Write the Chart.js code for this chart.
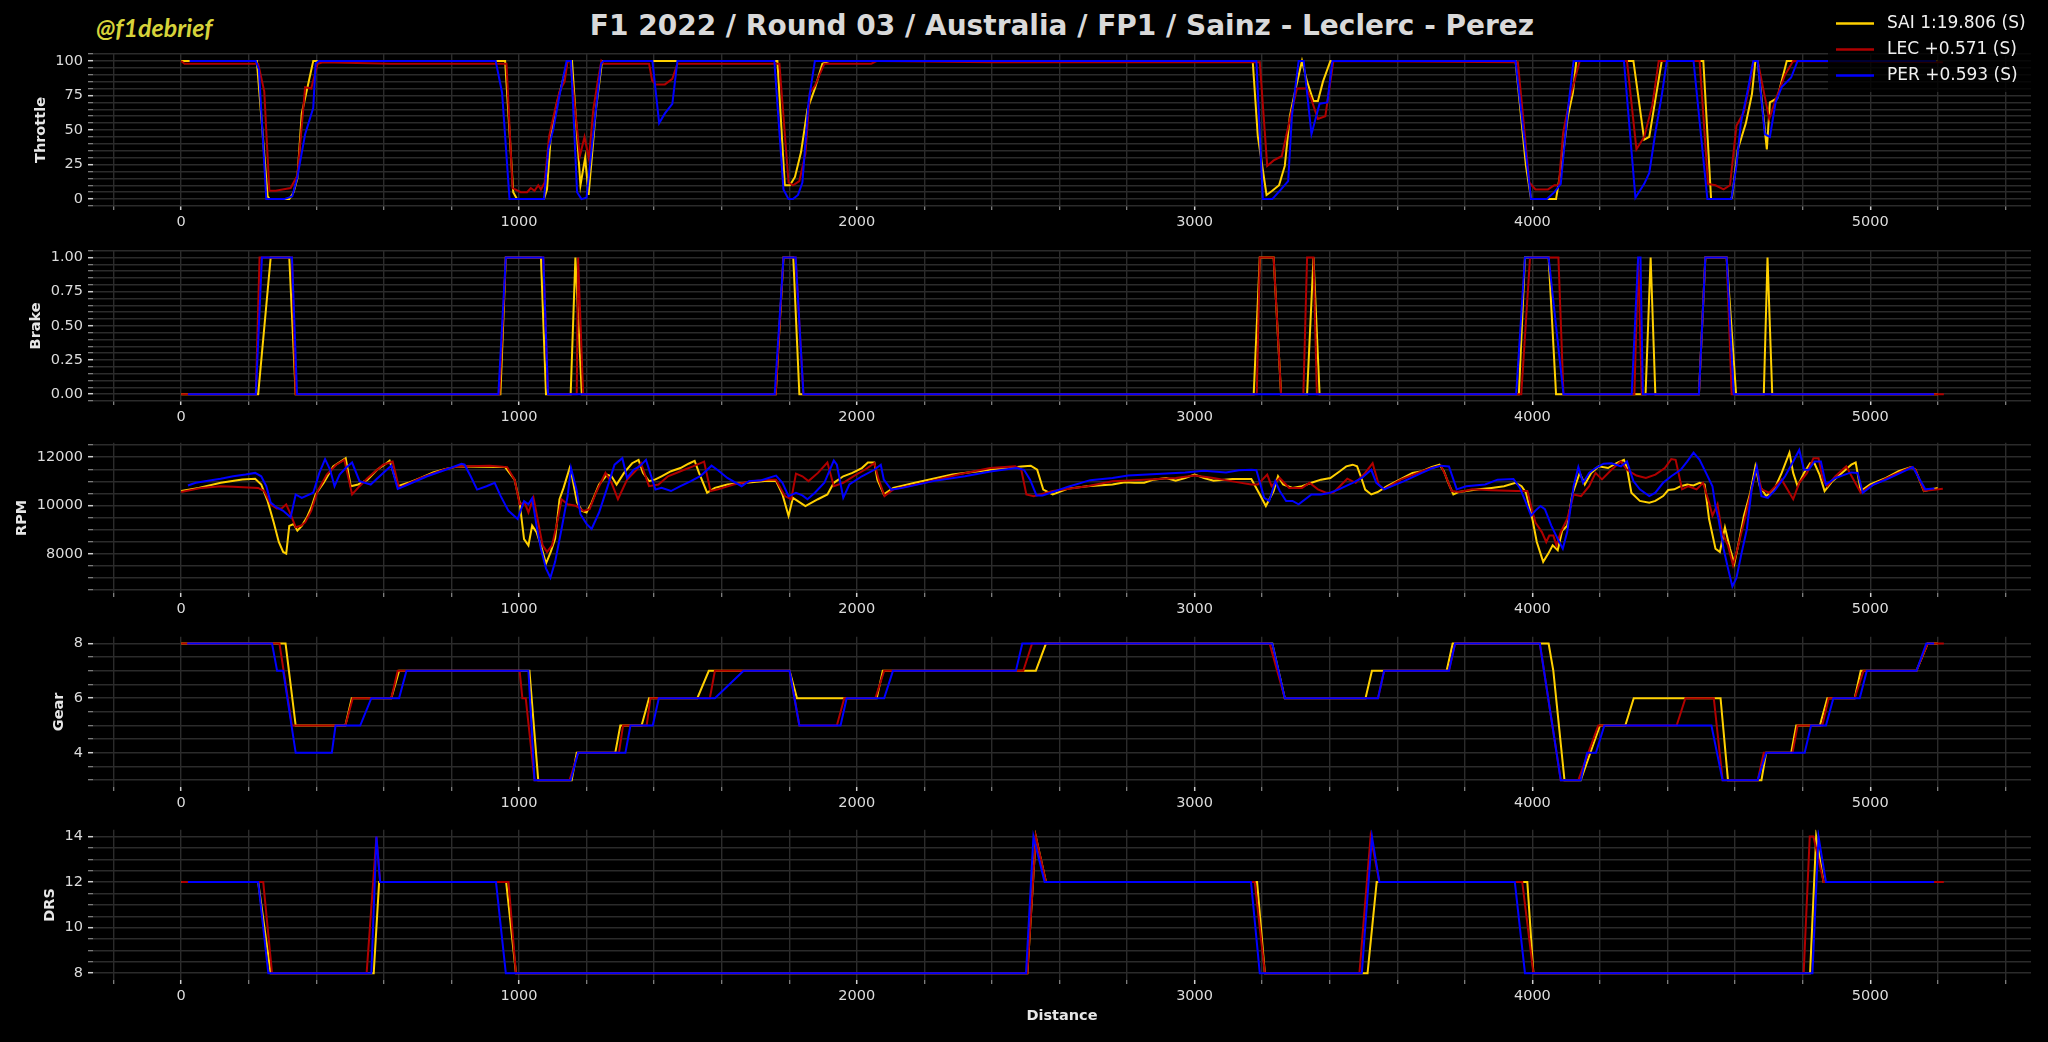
<!DOCTYPE html>
<html>
<head>
<meta charset="utf-8">
<script src="https://cdn.jsdelivr.net/npm/chart.js@4.4.1/dist/chart.umd.min.js"></script>
<style>
  html, body { margin:0; padding:0; background:#000; }
  body { width:2048px; height:1042px; position:relative; overflow:hidden; font-family:"DejaVu Sans", sans-serif; }
  .panel { position:absolute; left:0; }
  #title { position:absolute; left:93px; width:1938px; top:9px; text-align:center; font:bold 28px "DejaVu Sans"; line-height:34px; color:#d9d9d9; }
  #wm { position:absolute; left:96px; top:14px; font:italic bold 25px Lato, "Open Sans", "DejaVu Sans"; line-height:26px; color:#d6d33a; }
</style>
</head>
<body>
<div id="title">F1 2022 / Round 03 / Australia / FP1 / Sainz - Leclerc - Perez</div>
<div id="wm">@f1debrief</div>
<div id="panels"></div>
<script>
// ---------------- DATA ----------------
const DRIVERS = ['SAI 1:19.806 (S)', 'LEC +0.571 (S)', 'PER +0.593 (S)'];
const CHANNELS = ['Throttle', 'Brake', 'RPM', 'Gear', 'DRS'];
const X_TICK_LABELS = ['0', '1000', '2000', '3000', '4000', '5000'];

const THROTTLE_SAI = [[0,100],[224,100],[256,2],[262,0],[320,0],[333,5],[344,15],[357,62],[391,100],[959,100],[983,5],[994,0],[1074,0],[1083,7],[1094,45],[1111,68],[1131,87],[1144,100],[1157,100],[1168,60],[1182,10],[1196,30],[1206,3],[1228,65],[1246,100],[1765,100],[1787,10],[1802,10],[1817,16],[1835,34],[1854,65],[1876,80],[1898,98],[1920,100],[3172,100],[3187,46],[3213,3],[3230,6],[3250,10],[3267,24],[3282,60],[3301,82],[3318,100],[3333,85],[3352,71],[3365,71],[3380,85],[3402,100],[3950,100],[3981,24],[3996,0],[4070,0],[4088,27],[4105,60],[4120,77],[4130,100],[4299,100],[4331,43],[4346,45],[4364,72],[4383,100],[4506,100],[4529,0],[4585,0],[4591,1],[4608,36],[4632,55],[4650,76],[4660,100],[4667,100],[4694,36],[4703,70],[4725,73],[4753,100],[5200,100]];
const THROTTLE_LEC = [[0,100],[10,98],[228,98],[246,78],[261,6],[280,6],[300,7],[324,8],[344,17],[367,81],[385,80],[404,98],[420,99],[620,98],[800,98],[963,98],[981,8],[1005,5],[1024,5],[1035,8],[1046,6],[1057,10],[1065,7],[1076,12],[1089,45],[1107,65],[1120,78],[1135,85],[1144,100],[1152,100],[1180,31],[1194,45],[1207,29],[1220,65],[1233,85],[1244,100],[1250,98],[1385,98],[1394,86],[1404,83],[1432,83],[1454,87],[1469,98],[1771,98],[1798,12],[1811,10],[1830,13],[1848,33],[1861,77],[1876,82],[1904,98],[2043,98],[2060,100],[2400,99],[3193,99],[3215,24],[3234,28],[3258,31],[3284,60],[3303,80],[3331,80],[3346,72],[3365,58],[3387,60],[3411,100],[3957,99],[3991,12],[4009,7],[4046,7],[4065,10],[4078,10],[4091,48],[4110,72],[4140,100],[4280,100],[4308,36],[4331,45],[4355,68],[4374,100],[4495,100],[4520,11],[4542,10],[4566,7],[4585,10],[4604,53],[4626,63],[4645,85],[4654,100],[4667,100],[4701,58],[4720,72],[4748,90],[4772,100],[5215,99]];
const THROTTLE_PER = [[25,100],[221,100],[230,94],[252,0],[305,0],[329,2],[344,16],[367,47],[391,66],[398,98],[407,100],[931,100],[950,77],[972,0],[1074,0],[1087,36],[1102,51],[1120,75],[1141,100],[1154,100],[1172,5],[1185,0],[1200,1],[1215,36],[1231,72],[1243,98],[1250,100],[1395,100],[1415,55],[1432,62],[1454,69],[1469,100],[1756,100],[1783,7],[1798,0],[1811,0],[1826,3],[1839,12],[1857,70],[1876,100],[3183,100],[3202,0],[3230,0],[3252,6],[3277,13],[3288,60],[3308,100],[3323,100],[3346,47],[3370,69],[3393,70],[3408,100],[3950,100],[3996,0],[4043,0],[4065,5],[4084,11],[4103,60],[4122,100],[4271,100],[4305,1],[4331,11],[4346,19],[4364,48],[4383,75],[4398,100],[4477,100],[4518,0],[4589,0],[4604,24],[4617,55],[4636,77],[4654,100],[4667,100],[4688,47],[4703,45],[4720,70],[4738,81],[4766,88],[4785,100],[5195,100]];

const BRAKE_SAI = [[0,0],[228,0],[265,1],[320,1],[339,0],[945,0],[961,1],[1065,1],[1080,0],[1153,0],[1167,1],[1186,0],[1760,0],[1783,1],[1812,1],[1830,0],[3175,0],[3193,1],[3234,1],[3256,0],[3333,0],[3352,1],[3370,0],[3960,0],[3978,1],[4048,1],[4070,0],[4335,0],[4350,1],[4364,0],[4493,0],[4512,1],[4575,1],[4603,0],[4685,0],[4696,1],[4710,0],[5200,0]];
const BRAKE_LEC = [[0,0],[221,0],[232,1],[328,1],[339,0],[942,0],[961,1],[1072,1],[1086,0],[1171,0],[1175,1],[1190,0],[1760,0],[1783,1],[1819,1],[1842,0],[3184,0],[3193,1],[3234,1],[3256,0],[3322,0],[3333,1],[3352,1],[3362,0],[3967,0],[3993,1],[4077,1],[4092,0],[4302,0],[4313,1],[4324,0],[4493,0],[4512,1],[4575,1],[4590,0],[5218,0]];
const BRAKE_PER = [[20,0],[221,0],[239,1],[328,1],[343,0],[939,0],[961,1],[1072,1],[1086,0],[1757,0],[1783,1],[1819,1],[1842,0],[3952,0],[3978,1],[4048,1],[4092,0],[4294,0],[4313,1],[4320,1],[4327,0],[4493,0],[4512,1],[4575,1],[4596,0],[5189,0]];

const RPM_SAI = [[0,10600],[52,10730],[117,10940],[181,11080],[219,11110],[237,10870],[256,10180],[274,9300],[289,8490],[302,8080],[311,8010],[320,9160],[333,9235],[344,8960],[357,9160],[372,9500],[387,9985],[398,10460],[422,10940],[450,11620],[487,11960],[502,10800],[524,10870],[552,11070],[580,11480],[602,11690],[617,11860],[641,10800],[672,10940],[709,11140],[746,11370],[783,11510],[820,11620],[959,11590],[987,11070],[1002,10120],[1015,8610],[1028,8350],[1039,9170],[1052,8900],[1065,8350],[1080,7600],[1094,8080],[1107,8620],[1120,10260],[1132,10730],[1150,11550],[1157,11210],[1172,10120],[1187,9780],[1200,9710],[1215,10120],[1237,10870],[1261,11280],[1274,11210],[1289,10870],[1311,11350],[1335,11750],[1354,11890],[1367,11350],[1385,11010],[1404,11080],[1422,11210],[1450,11420],[1478,11550],[1502,11730],[1520,11850],[1533,11350],[1557,10530],[1580,10730],[1617,10870],[1672,10940],[1728,11010],[1761,11010],[1780,10460],[1798,9570],[1811,10320],[1848,9980],[1885,10260],[1913,10460],[1932,10940],[1960,11210],[1987,11350],[2015,11550],[2033,11780],[2052,11780],[2061,11070],[2080,10460],[2108,10730],[2172,10940],[2283,11280],[2395,11480],[2450,11550],[2487,11620],[2515,11650],[2534,11480],[2552,10660],[2580,10460],[2626,10700],[2682,10800],[2757,10870],[2794,10960],[2822,10940],[2851,10940],[2879,11070],[2916,11140],[2944,11030],[2972,11140],[3000,11280],[3028,11140],[3056,11030],[3112,11100],[3168,11100],[3193,10460],[3211,9980],[3234,10600],[3247,11210],[3262,10870],[3290,10730],[3318,10800],[3346,10940],[3374,11070],[3402,11140],[3430,11420],[3449,11620],[3468,11690],[3481,11620],[3492,11210],[3505,10660],[3523,10460],[3542,10560],[3570,10800],[3607,11070],[3645,11350],[3673,11420],[3701,11590],[3725,11690],[3738,11420],[3751,10940],[3766,10460],[3781,10560],[3804,10600],[3841,10670],[3879,10730],[3916,10800],[3950,10940],[3968,10800],[3981,10530],[4000,9440],[4013,8490],[4032,7670],[4047,8010],[4060,8350],[4075,8150],[4088,8960],[4103,9160],[4118,10460],[4140,11350],[4155,10870],[4174,11350],[4196,11620],[4224,11550],[4249,11750],[4271,11890],[4280,11550],[4293,10530],[4318,10190],[4346,10120],[4364,10190],[4387,10390],[4402,10640],[4420,10670],[4439,10800],[4458,10870],[4477,10830],[4495,10940],[4510,10870],[4523,9440],[4542,8210],[4555,8080],[4570,9100],[4585,8210],[4598,7600],[4613,8620],[4626,9570],[4645,10530],[4660,11620],[4673,10800],[4692,10390],[4716,10670],[4738,11350],[4761,12190],[4772,11350],[4785,10800],[4804,11350],[4822,11750],[4835,11750],[4850,11280],[4865,10600],[4888,11010],[4916,11350],[4944,11690],[4957,11780],[4972,10600],[5000,10870],[5047,11140],[5084,11420],[5121,11590],[5134,11480],[5159,10600],[5200,10730]];
const RPM_LEC = [[0,10560],[61,10730],[117,10800],[154,10780],[228,10730],[246,10600],[265,10050],[283,9880],[298,9890],[311,10050],[324,9640],[339,9100],[354,9160],[367,9300],[385,9780],[404,10600],[431,11280],[459,11690],[483,11890],[506,10460],[528,10800],[552,11140],[580,11480],[598,11690],[626,11820],[645,10730],[709,11140],[783,11510],[820,11620],[913,11650],[965,11590],[987,11070],[1002,10050],[1017,10120],[1028,9710],[1043,10320],[1057,9300],[1070,8350],[1083,8080],[1098,8350],[1113,9300],[1126,10260],[1144,10050],[1168,9990],[1191,9780],[1209,9850],[1228,10530],[1256,11350],[1274,10940],[1293,10260],[1320,11070],[1348,11480],[1361,11750],[1385,10800],[1413,10870],[1441,11210],[1478,11420],[1515,11620],[1548,11820],[1567,10600],[1589,10670],[1635,10870],[1691,11010],[1737,11070],[1761,11070],[1787,10390],[1806,10260],[1820,11320],[1839,11210],[1857,11010],[1885,11350],[1913,11780],[1932,10800],[1960,10940],[1998,11280],[2024,11480],[2052,11750],[2065,11070],[2082,10390],[2108,10670],[2200,10940],[2300,11280],[2395,11550],[2469,11620],[2487,11480],[2502,10460],[2524,10390],[2580,10600],[2682,10800],[2757,11000],[2851,11070],[2944,11140],[3000,11240],[3056,11140],[3112,11000],[3168,10870],[3187,10870],[3215,11280],[3228,10800],[3252,11140],[3280,10730],[3318,10730],[3340,10940],[3365,10670],[3389,10530],[3410,10530],[3430,10800],[3452,11110],[3477,10940],[3505,11350],[3527,11750],[3545,10870],[3560,10670],[3610,11070],[3673,11420],[3701,11550],[3729,11650],[3744,11210],[3761,10600],[3785,10560],[3822,10670],[3879,10630],[3953,10600],[3985,10600],[3996,9980],[4009,9300],[4028,8900],[4041,8490],[4050,8760],[4062,8760],[4071,8350],[4084,8900],[4103,9440],[4122,10460],[4144,10390],[4168,10800],[4187,11350],[4206,11080],[4234,11480],[4262,11820],[4280,11480],[4308,11240],[4336,11140],[4364,11280],[4392,11550],[4411,11920],[4424,11890],[4443,10670],[4462,10800],[4486,10670],[4505,10940],[4523,10120],[4533,9580],[4548,10050],[4561,8900],[4579,8350],[4594,7530],[4607,8210],[4626,9300],[4649,10670],[4664,11550],[4678,10670],[4701,10530],[4738,11070],[4772,10260],[4790,10940],[4813,11350],[4832,11960],[4847,11960],[4860,11070],[4873,10800],[4897,11210],[4929,11620],[4948,11140],[4972,10530],[5000,10800],[5060,11210],[5121,11590],[5134,11480],[5159,10600],[5215,10690]];
const RPM_PER = [[20,10830],[43,10940],[117,11110],[154,11210],[191,11280],[219,11350],[237,11210],[252,10800],[265,10120],[283,9920],[302,9780],[324,9510],[339,10460],[357,10320],[391,10530],[409,11350],[426,11920],[441,11480],[454,10800],[469,11280],[487,11550],[506,11780],[528,11010],[561,10870],[598,11350],[622,11650],[641,10690],[672,10870],[728,11210],[783,11480],[830,11730],[839,11690],[857,11210],[876,10660],[904,10800],[928,10940],[946,10390],[969,9780],[996,9440],[1015,10180],[1028,10050],[1039,10300],[1052,9170],[1065,8210],[1080,7400],[1093,7010],[1107,7670],[1126,9030],[1144,10390],[1154,11550],[1170,10660],[1182,9640],[1200,9240],[1215,9030],[1237,9710],[1261,10730],[1283,11690],[1306,11960],[1320,11140],[1339,11480],[1357,11620],[1376,11890],[1404,10660],[1422,10730],[1450,10600],[1478,10800],[1509,11010],[1539,11240],[1570,11650],[1589,11460],[1617,11140],[1659,10800],[1681,11010],[1718,11050],[1761,11240],[1780,10940],[1798,10390],[1820,10530],[1839,10420],[1854,10260],[1876,10530],[1904,10940],[1932,11860],[1941,11690],[1960,10320],[1978,10870],[2015,11210],[2052,11480],[2071,11690],[2080,11070],[2102,10660],[2135,10730],[2226,11010],[2320,11210],[2400,11420],[2472,11550],[2495,11480],[2513,11070],[2532,10420],[2550,10420],[2589,10600],[2626,10780],[2691,11050],[2757,11140],[2803,11240],[2888,11300],[2972,11370],[3028,11440],[3093,11370],[3131,11460],[3168,11480],[3183,11460],[3206,10320],[3221,10190],[3239,11010],[3252,10600],[3271,10190],[3290,10190],[3308,10050],[3346,10460],[3374,10460],[3402,10530],[3430,10690],[3468,10940],[3495,11140],[3523,11480],[3538,10940],[3561,10670],[3620,11010],[3673,11350],[3701,11530],[3729,11650],[3753,11620],[3776,10670],[3804,10800],[3860,10870],[3897,11070],[3944,11100],[3963,10730],[3981,10120],[3996,9580],[4009,9790],[4024,9980],[4037,9850],[4056,9170],[4075,8620],[4090,8210],[4103,8900],[4122,10800],[4136,11590],[4150,10940],[4168,11350],[4187,11550],[4211,11730],[4234,11750],[4262,11620],[4280,11820],[4299,11010],[4318,10670],[4346,10390],[4364,10530],[4387,10940],[4411,11210],[4439,11480],[4458,11820],[4477,12190],[4495,11890],[4514,11350],[4533,10800],[4542,9980],[4551,9440],[4566,8210],[4579,7400],[4592,6650],[4604,7000],[4620,8080],[4635,9030],[4649,10670],[4664,11620],[4678,10390],[4697,10320],[4720,10670],[4748,11210],[4772,11820],[4790,12300],[4804,11480],[4818,11480],[4835,11820],[4854,11820],[4869,10870],[4897,11140],[4925,11280],[4944,11370],[4963,11350],[4978,10530],[5010,10870],[5047,11070],[5090,11350],[5126,11590],[5163,10670],[5190,10710]];

const GEAR_SAI = [[0,8],[309,8],[339,5],[486,5],[505,6],[622,6],[645,7],[1031,7],[1057,3],[1156,3],[1171,4],[1285,4],[1300,5],[1363,5],[1385,6],[1528,6],[1562,7],[1801,7],[1823,6],[2059,6],[2077,7],[2530,7],[2560,8],[3230,8],[3267,6],[3506,6],[3525,7],[3746,7],[3764,8],[4048,8],[4062,7],[4095,3],[4143,3],[4200,5],[4275,5],[4300,6],[4557,6],[4579,3],[4678,3],[4692,4],[4766,4],[4781,5],[4851,5],[4873,6],[4954,6],[4972,7],[5137,7],[5170,8],[5200,8]];
const GEAR_LEC = [[0,8],[291,8],[328,5],[486,5],[508,6],[622,6],[641,7],[1002,7],[1010,6],[1020,6],[1046,3],[1150,3],[1175,4],[1296,4],[1308,5],[1378,5],[1389,6],[1565,6],[1580,7],[1801,7],[1830,5],[1941,5],[1963,6],[2055,6],[2081,7],[2493,7],[2519,8],[3222,8],[3267,6],[3543,6],[3561,7],[3753,7],[3771,8],[4022,8],[4084,3],[4136,3],[4195,5],[4427,5],[4453,6],[4537,6],[4563,3],[4667,3],[4685,4],[4770,4],[4785,5],[4858,5],[4877,6],[4954,6],[4980,7],[5137,7],[5170,8],[5218,8]];
const GEAR_PER = [[18,8],[269,8],[284,7],[302,7],[339,4],[446,4],[457,5],[530,5],[563,6],[645,6],[667,7],[1028,7],[1046,3],[1153,3],[1175,4],[1315,4],[1330,5],[1396,5],[1414,6],[1580,6],[1665,7],[1801,7],[1830,5],[1952,5],[1970,6],[2081,6],[2107,7],[2471,7],[2490,8],[3230,8],[3267,6],[3543,6],[3561,7],[3753,7],[3771,8],[4022,8],[4084,3],[4143,3],[4162,4],[4188,4],[4213,5],[4530,5],[4563,3],[4667,3],[4692,4],[4806,4],[4825,5],[4869,5],[4891,6],[4969,6],[4990,7],[5137,7],[5166,8],[5189,8]];

const DRS_SAI = [[0,12],[228,12],[265,8],[570,8],[586,12],[962,12],[991,8],[2505,8],[2530,14],[2560,12],[3185,12],[3208,8],[3512,8],[3539,12],[3985,12],[4003,8],[4822,8],[4840,14],[4862,12],[5200,12]];
const DRS_LEC = [[0,12],[243,12],[269,8],[549,8],[578,14],[589,12],[969,12],[991,8],[2505,8],[2530,14],[2560,12],[3178,12],[3208,8],[3488,8],[3521,14],[3547,12],[3970,12],[4003,8],[4803,8],[4821,14],[4832,14],[4862,12],[5218,12]];
const DRS_PER = [[20,12],[228,12],[258,8],[563,8],[578,14],[589,12],[932,12],[961,8],[2501,8],[2523,14],[2556,12],[3167,12],[3193,8],[3495,8],[3525,14],[3547,12],[3948,12],[3978,8],[4829,8],[4847,14],[4869,12],[5189,12]];

// ---------------- STYLE / LAYOUT ----------------
const COLORS = ['#ffd000', '#b00000', '#0000ff'];
const FONT = '"DejaVu Sans"';
const TICK_PX = 14.5;
const PLOT_LEFT = 93, PLOT_RIGHT = 2031, PLOT_H = 152;
const X_MIN = -261, X_MAX = 5476;
const Y_AXIS_W = 70, X_AXIS_H = 40;

const PANELS = [
  { name:'Throttle', series:[THROTTLE_SAI, THROTTLE_LEC, THROTTLE_PER], min:-5, max:105, step:5, major:25, fmt:v=>String(v), top:54, legend:true },
  { name:'Brake', series:[BRAKE_SAI, BRAKE_LEC, BRAKE_PER], min:-0.05, max:1.05, step:0.05, major:0.25, fmt:v=>v.toFixed(2), top:249 },
  { name:'RPM', series:[RPM_SAI, RPM_LEC, RPM_PER], min:6380, max:12600, step:500, major:2000, fmt:v=>String(v), top:441 },
  { name:'Gear', series:[GEAR_SAI, GEAR_LEC, GEAR_PER], min:2.75, max:8.25, step:0.5, major:2, fmt:v=>String(v), top:635 },
  { name:'DRS', series:[DRS_SAI, DRS_LEC, DRS_PER], min:7.7, max:14.3, step:0.5, major:2, fmt:v=>String(v), top:828, xTitle:'Distance' }
];

function isMult(v, m) { const r = v / m; return Math.abs(r - Math.round(r)) < 1e-6; }
function buildTicks(min, max, step) {
  const out = [];
  const start = Math.ceil(min / step - 1e-9);
  for (let k = start; k * step <= max + 1e-9; k++) out.push({ value: Math.round(k * step * 10000) / 10000 });
  return out;
}

const decorPlugin = {
  id: 'decor',
  afterDraw(chart, args, opts) {
    const { ctx, chartArea } = chart;
    const ys = chart.scales.y;
    ctx.save();
    ctx.font = TICK_PX + 'px ' + FONT;
    let maxW = 0;
    ys.ticks.forEach(t => { if (t.label) maxW = Math.max(maxW, ctx.measureText(t.label).width); });
    const tx = chartArea.left - 10 - maxW - 14.5;
    const ty = (chartArea.top + chartArea.bottom) / 2;
    ctx.translate(tx, ty);
    ctx.rotate(-Math.PI / 2);
    ctx.font = 'bold 14.5px ' + FONT;
    ctx.fillStyle = '#e6e6e6';
    ctx.textAlign = 'center';
    ctx.textBaseline = 'middle';
    ctx.fillText(opts.yTitle, 0, 0);
    ctx.restore();

    if (opts.xTitle) {
      ctx.save();
      ctx.font = 'bold 14.5px ' + FONT;
      ctx.fillStyle = '#e6e6e6';
      ctx.textAlign = 'center';
      ctx.textBaseline = 'middle';
      ctx.fillText(opts.xTitle, (chartArea.left + chartArea.right) / 2, chartArea.bottom + 36);
      ctx.restore();
    }

    if (opts.legend) {
      const ds = chart.data.datasets;
      ctx.save();
      ctx.fillStyle = 'rgba(0,0,0,0.8)';
      ctx.fillRect(1828, 6, 212, 86);
      ctx.font = '17px ' + FONT;
      ctx.textBaseline = 'middle';
      ctx.textAlign = 'left';
      ds.forEach((d, i) => {
        const y = 23.5 + i * 26;
        ctx.strokeStyle = d.borderColor;
        ctx.lineWidth = 2.5;
        ctx.beginPath(); ctx.moveTo(1836, y); ctx.lineTo(1874, y); ctx.stroke();
        ctx.fillStyle = '#f0f0f0';
        ctx.fillText(d.label, 1887, y);
      });
      ctx.restore();
    }
  }
};

const host = document.getElementById('panels');
PANELS.forEach((p, idx) => {
  const padTop = p.legend ? p.top : 12;
  const contTop = p.top - padTop;
  const xH = p.xTitle ? (1042 - (p.top + PLOT_H)) : X_AXIS_H;
  const h = padTop + PLOT_H + xH;
  const div = document.createElement('div');
  div.className = 'panel';
  div.style.top = contTop + 'px';
  div.style.width = '2048px';
  div.style.height = h + 'px';
  const cv = document.createElement('canvas');
  cv.width = 2048; cv.height = h;
  cv.style.width = '2048px'; cv.style.height = h + 'px';
  div.appendChild(cv);
  host.appendChild(div);

  const yTicks = buildTicks(p.min, p.max, p.step);
  const xTicks = buildTicks(-200, 5400, 200);
  const datasets = p.series.map((s, i) => ({
    label: DRIVERS[i],
    data: s.map(([x, y]) => ({ x, y })),
    borderColor: COLORS[i],
    backgroundColor: COLORS[i],
    borderWidth: 2,
    pointRadius: 0,
    tension: 0,
    fill: false,
    order: 3 - i
  }));

  new Chart(cv, {
    type: 'line',
    data: { datasets },
    plugins: [decorPlugin],
    options: {
      responsive: false,
      animation: false,
      devicePixelRatio: 1,
      parsing: true,
      layout: { padding: { top: padTop, left: PLOT_LEFT - Y_AXIS_W, right: 2048 - PLOT_RIGHT, bottom: 0 } },
      plugins: {
        legend: { display: false },
        tooltip: { enabled: false },
        decor: { yTitle: p.name, xTitle: p.xTitle || null, legend: !!p.legend }
      },
      scales: {
        x: {
          type: 'linear', min: X_MIN, max: X_MAX,
          afterBuildTicks: s => { s.ticks = xTicks.map(t => ({ value: t.value })); },
          afterFit: s => { s.height = xH; },
          ticks: {
            autoSkip: false, maxRotation: 0, minRotation: 0,
            color: '#dcdcdc', font: { family: 'DejaVu Sans', size: TICK_PX }, padding: 3.5,
            callback: v => (X_TICK_LABELS.includes(String(v)) ? String(v) : '')
          },
          grid: {
            color: '#2b2b2b', lineWidth: 1.4, drawTicks: true, tickLength: 4,
            tickColor: c => (c.tick && isMult(c.tick.value, 1000)) ? '#d0d0d0' : '#8a8a8a',
            tickWidth: c => (c.tick && isMult(c.tick.value, 1000)) ? 1.5 : 1.2
          },
          border: { display: false }
        },
        y: {
          type: 'linear', min: p.min, max: p.max,
          afterBuildTicks: s => { s.ticks = yTicks.map(t => ({ value: t.value })); },
          afterFit: s => { s.width = Y_AXIS_W; },
          ticks: {
            autoSkip: false, color: '#dcdcdc', font: { family: 'DejaVu Sans', size: TICK_PX }, padding: 5,
            callback: v => (isMult(v, p.major) && v >= p.min && v <= p.max && (p.name !== 'Throttle' || (v >= 0 && v <= 100))) ? p.fmt(v) : ''
          },
          grid: {
            color: '#2b2b2b', lineWidth: 1.4, drawTicks: true, tickLength: 5,
            tickColor: c => (c.tick && isMult(c.tick.value, p.major)) ? '#d0d0d0' : '#8a8a8a',
            tickWidth: c => (c.tick && isMult(c.tick.value, p.major)) ? 1.5 : 1.2
          },
          border: { display: false }
        }
      }
    }
  });
});
</script>
</body>
</html>
